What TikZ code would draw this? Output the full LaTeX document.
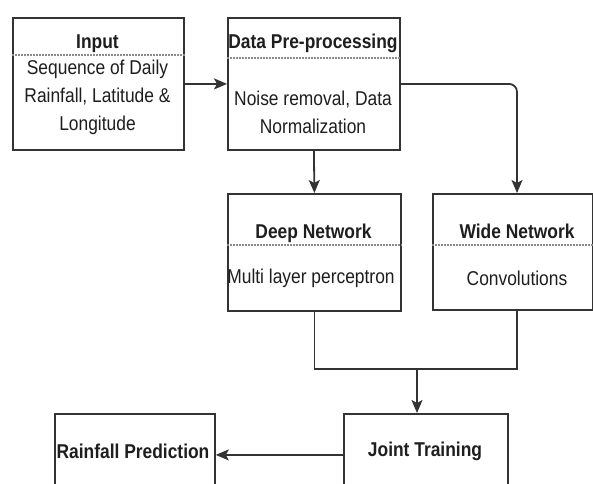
\documentclass[tikz,border=0pt]{standalone}
\usepackage{fontspec}
\newfontfamily\dfont[FakeStretch=0.87]{Liberation Sans}
\usetikzlibrary{arrows.meta}
\definecolor{lc}{HTML}{333333}
\definecolor{tc}{HTML}{1E1E1E}
\definecolor{dc}{HTML}{8A8A8A}
\tikzset{
  box/.style={draw=lc,line width=1.8pt,fill=white,inner sep=0pt,anchor=north west},
  ttl/.style={font=\dfont\fontsize{20}{28}\selectfont\bfseries,text=tc,inner sep=0pt,align=center,text height=14.5pt,text depth=0pt},
  bdy/.style={font=\dfont\fontsize{20}{28}\selectfont,text=tc,inner sep=0pt,align=center},
  sep/.style={draw=dc,line width=1.2pt,dash pattern=on 1.5pt off 1.5pt},
  conn/.style={draw=lc,line width=1.8pt},
  arr/.style={conn,-{Stealth[length=13pt,width=11pt,inset=3pt]}}
}
\begin{document}
\begin{tikzpicture}[x=1pt,y=-1pt]
\useasboundingbox (0,0) rectangle (593,483);
\clip (0,0) rectangle (593,483);
% boxes
\node[box,minimum width=171pt,minimum height=132pt] (input) at (12,17) {};
\node[box,minimum width=172pt,minimum height=132pt] (data) at (227,17) {};
\node[box,minimum width=173pt,minimum height=117pt] (deep) at (227,193) {};
\node[box,minimum width=160pt,minimum height=116pt] (wide) at (432,193) {};
\node[box,minimum width=164pt,minimum height=82pt] (joint) at (343,413) {};
\node[box,minimum width=160pt,minimum height=82pt] (rain) at (54,413) {};
% separators
\draw[sep] (input.west |- 0,55) -- (input.east |- 0,55);
\draw[sep] (data.west |- 0,58) -- (data.east |- 0,58);
\draw[sep] (deep.west |- 0,245) -- (deep.east |- 0,245);
\draw[sep] (wide.west |- 0,245) -- (wide.east |- 0,245);
% texts
\node[ttl] (inputt) at (97.5,41) {Input};
\node[bdy] (inputb) at (97.5,97) {Sequence of Daily\\Rainfall, Latitude \&\\Longitude};
\node[ttl] (datat) at (313,41) {Data Pre-processing};
\node[bdy] (datab) at (313,112) {Noise removal, Data\\Normalization};
\node[ttl] (deept) at (313.5,231) {Deep Network};
\node[bdy] (deepb) at (311,278) {Multi layer perceptron};
\node[ttl] (widet) at (517,231) {Wide Network};
\node[bdy] (wideb) at (517,278) {Convolutions};
\node[ttl] (jointt) at (425,449) {Joint Training};
\node[ttl] (raint) at (133,451) {Rainfall Prediction};
% connectors
\draw[arr] (input.east) -- (data.west);
\draw[arr] (data.south) -- (deep.north);
\draw[arr,rounded corners=8pt] (data.east) -| (widet |- wide.north);
\coordinate (merge) at (417,369);
\draw[conn] (deep.south) -- (deep.south |- merge) -- (widet |- merge) -- (widet |- wide.south);
\draw[arr] (merge) -- (merge |- joint.north);
\draw[arr] (joint.west) -- (rain.east);
\end{tikzpicture}
\end{document}
